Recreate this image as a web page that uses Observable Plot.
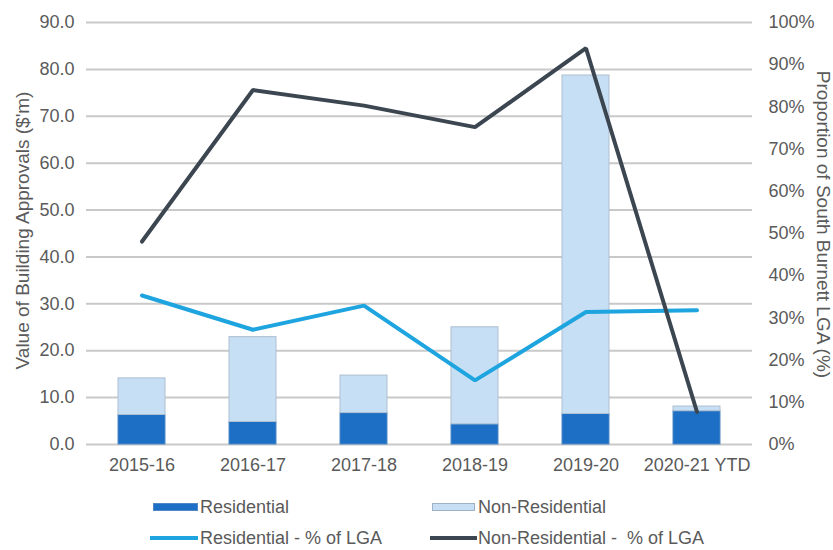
<!DOCTYPE html>
<html>
<head>
<meta charset="utf-8">
<script src="https://cdn.jsdelivr.net/npm/d3@7"></script>
<script src="https://cdn.jsdelivr.net/npm/@observablehq/plot@0.6"></script>
<style>
  body { margin: 0; background: #fff; font-family: "Liberation Sans", Arial, sans-serif; }
  #chart { position: relative; width: 833px; height: 550px; }
  #chart svg { display: block; }
  .legend { position: absolute; left: 0; top: 480px; width: 833px; height: 70px; }
  .sw { position: absolute; box-sizing: border-box; }
  .lab { position: absolute; font-size: 18px; line-height: 20px; color: #5a5a5a; white-space: pre; }
</style>
</head>
<body>
<div id="chart"></div>
<script>
// Building approvals by financial year, South Burnett LGA
const years = ["2015-16", "2016-17", "2017-18", "2018-19", "2019-20", "2020-21 YTD"];
const residential = [6.3, 4.8, 6.7, 4.3, 6.5, 7.1];        // $m
const nonResidential = [7.8, 18.1, 8.0, 20.7, 72.2, 1.0];   // $m
const residentialPct = [35.3, 27.2, 32.9, 15.2, 31.4, 31.8];    // % of LGA
const nonResidentialPct = [48.1, 84.0, 80.3, 75.2, 93.9, 7.7];  // % of LGA

const valueTicks = d3.range(0, 91, 10);
const pctTicks = d3.range(0, 101, 10);
const valueMax = 90;
const pctToValue = p => p * valueMax / 100;   // right axis shares the left scale

const colors = {
  "Residential": "#1d6fc6",
  "Non-Residential": "#c7dff4",
  "Residential - % of LGA": "#1ea4df",
  "Non-Residential -  % of LGA": "#3c4651"
};
const textColor = "#5a5a5a";

const bars = [
  ...years.map((year, i) => ({year, series: "Residential", value: residential[i]})),
  ...years.map((year, i) => ({year, series: "Non-Residential", value: nonResidential[i]}))
];
const resLine = years.map((year, i) => ({year, pct: residentialPct[i]}));
const nonResLine = years.map((year, i) => ({year, pct: nonResidentialPct[i]}));

const plot = Plot.plot({
  width: 833,
  height: 480,
  marginLeft: 86,
  marginRight: 81,
  marginTop: 22,
  marginBottom: 36,
  style: {fontFamily: "'Liberation Sans', Arial, sans-serif", fontSize: "18px", color: textColor, background: "#fff"},
  x: {type: "band", domain: years, paddingInner: 0.58, paddingOuter: 0.29, label: null},
  y: {domain: [0, valueMax], label: null},
  color: {domain: Object.keys(colors), range: Object.values(colors)},
  marks: [
    Plot.ruleY(valueTicks, {stroke: "#c9c9c9", strokeWidth: 2}),
    Plot.barY(bars, {
      x: "year", y: "value", fill: "series",
      stroke: d => d.series === "Residential" ? "#4f88c4" : "#aebfd0",
      strokeWidth: 1, order: ["Residential", "Non-Residential"]
    }),
    Plot.line(resLine, {x: "year", y: d => pctToValue(d.pct), stroke: colors["Residential - % of LGA"], strokeWidth: 4, strokeLinejoin: "miter"}),
    Plot.line(nonResLine, {x: "year", y: d => pctToValue(d.pct), stroke: colors["Non-Residential -  % of LGA"], strokeWidth: 4, strokeLinejoin: "miter"}),
    Plot.axisY(valueTicks, {anchor: "left", tickSize: 0, tickPadding: 12, tickFormat: d3.format(".1f"), label: null}),
    Plot.axisY(pctTicks.map(pctToValue), {anchor: "right", tickSize: 0, tickPadding: 16, tickFormat: d => Math.round(d * 100 / valueMax) + "%", label: null}),
    Plot.axisX({tickSize: 0, tickPadding: 14, label: null}),
    Plot.text(["Value of Building Approvals ($'m)"], {frameAnchor: "left", textAnchor: "middle", rotate: -90, dx: -64, dy: -3, fill: textColor, fontSize: 19}),
    Plot.text(["Proportion of South Burnett LGA (%)"], {frameAnchor: "right", textAnchor: "middle", rotate: 90, dx: 71, dy: -9, fill: textColor, fontSize: 19})
  ]
});

const chart = document.getElementById("chart");
chart.appendChild(plot);

// Legend below the chart (y values relative to the legend box)
const legend = document.createElement("div");
legend.className = "legend";
const items = [
  {label: "Residential", kind: "bar", fill: colors["Residential"], stroke: "#4f88c4", swLeft: 153, swWidth: 45, textLeft: 200, cy: 27},
  {label: "Non-Residential", kind: "bar", fill: colors["Non-Residential"], stroke: "#9fb2c4", swLeft: 432, swWidth: 43, textLeft: 478, cy: 27},
  {label: "Residential - % of LGA", kind: "line", fill: colors["Residential - % of LGA"], swLeft: 150, swWidth: 48, textLeft: 200, cy: 58},
  {label: "Non-Residential -  % of LGA", kind: "line", fill: colors["Non-Residential -  % of LGA"], swLeft: 430, swWidth: 47, textLeft: 478, cy: 58}
];
for (const it of items) {
  const sw = document.createElement("div");
  sw.className = "sw";
  const h = it.kind === "bar" ? 8 : 4;
  sw.style.left = it.swLeft + "px";
  sw.style.width = it.swWidth + "px";
  sw.style.height = h + "px";
  sw.style.top = (it.cy - h / 2) + "px";
  sw.style.background = it.fill;
  if (it.kind === "bar") sw.style.border = "1px solid " + it.stroke;
  const tx = document.createElement("div");
  tx.className = "lab";
  tx.style.left = it.textLeft + "px";
  tx.style.top = (it.cy - 10) + "px";
  tx.textContent = it.label;
  legend.appendChild(sw);
  legend.appendChild(tx);
}
chart.appendChild(legend);
</script>
</body>
</html>
